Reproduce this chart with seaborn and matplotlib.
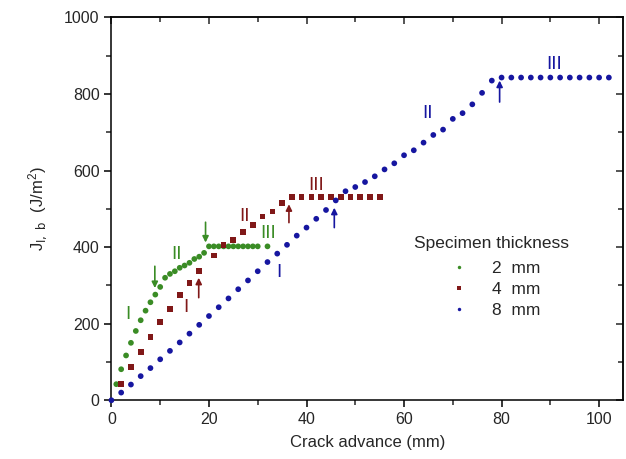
import numpy as np
import pandas as pd
import matplotlib
matplotlib.use("Agg")
import matplotlib.pyplot as plt
import seaborn as sns
from matplotlib.ticker import MultipleLocator

# 2 mm specimen
x_2mm = [1, 2, 3, 4, 5, 6, 7, 8, 9, 10, 11, 12, 13, 14, 15, 16, 17, 18, 19, 20,
         21, 22, 23, 24, 25, 26, 27, 28, 29, 30, 32]
j_2mm = [42, 81, 117, 150, 181, 209, 234, 256, 276, 296, 320, 330, 337, 346, 352,
         359, 369, 375, 385, 402,
         402, 402, 402, 402, 402, 402, 402, 402, 402, 402, 402]

# 4 mm specimen
x_4mm = [2, 4, 6, 8, 10, 12, 14, 16, 18, 21, 23, 25, 27, 29, 31, 33, 35, 37,
         39, 41, 43, 45, 47, 49, 51, 53, 55]
j_4mm = [43, 86, 126, 165, 204, 239, 274, 307, 337, 378, 406, 418, 440, 457, 480,
         493, 515, 531,
         531, 531, 531, 531, 531, 531, 531, 531, 531]

# 8 mm specimen
x_8mm = [0, 2, 4, 6, 8, 10, 12, 14, 16, 18, 20, 22, 24, 26, 28, 30, 32, 34, 36, 38,
         40, 42, 44, 46, 48, 50, 52, 54, 56, 58, 60, 62, 64, 66, 68, 70, 72, 74, 76, 78,
         80, 82, 84, 86, 88, 90, 92, 94, 96, 98, 100, 102]
j_8mm = [0, 20, 41, 63, 84, 107, 129, 151, 174, 197, 220, 243, 266, 290, 313, 337,
         361, 383, 406, 430, 451, 474, 497, 522, 546, 557, 570, 585, 603, 619, 640,
         653, 673, 693, 707, 735, 750, 773, 803, 835,
         843, 843, 843, 843, 843, 843, 843, 843, 843, 843, 843, 843]

labels = ["2  mm", "4  mm", "8  mm"]
colors = ["#3a8c25", "#801818", "#1616a0"]

# stage labels (text, x, y, series index)
stage_text = ["I", "II", "III", "I", "II", "III", "I", "II", "III"]
stage_x = [3.4, 13.4, 32.1, 15.2, 27.2, 42.0, 34.3, 64.9, 90.8]
stage_y = [223, 381, 436, 241, 481, 562, 334, 748, 877]
stage_series = [0, 0, 0, 1, 1, 1, 2, 2, 2]

# transition arrows (x, tail y, head y, series index)
arrow_x = [8.9, 19.3, 17.9, 36.4, 45.7, 79.6]
arrow_tail = [350, 465, 268, 464, 451, 779]
arrow_head = [293, 412, 320, 512, 503, 835]
arrow_series = [0, 0, 1, 1, 2, 2]

df = pd.concat([
    pd.DataFrame({"x": x_2mm, "J": j_2mm, "thickness": labels[0]}),
    pd.DataFrame({"x": x_4mm, "J": j_4mm, "thickness": labels[1]}),
    pd.DataFrame({"x": x_8mm, "J": j_8mm, "thickness": labels[2]}),
])

sns.set_style("white")
plt.rcParams["font.family"] = ["Liberation Sans", "DejaVu Sans"]
plt.rcParams["mathtext.default"] = "regular"

fig = plt.figure(figsize=(6.26, 4.59), dpi=100)
ax = fig.add_axes([0.178, 0.128, 0.818, 0.834])

sns.scatterplot(data=df, x="x", y="J", hue="thickness", style="thickness",
                palette=dict(zip(labels, colors)),
                markers={labels[0]: "o", labels[1]: "s", labels[2]: "o"},
                s=17, linewidth=0, ax=ax, clip_on=False, zorder=3)

for t, xx, yy, si in zip(stage_text, stage_x, stage_y, stage_series):
    ax.text(xx, yy, t, color=colors[si], fontsize=13.5, ha="center", va="center",
            family=["Liberation Sans Narrow", "Liberation Sans", "DejaVu Sans"])

for xx, yt, yh, si in zip(arrow_x, arrow_tail, arrow_head, arrow_series):
    ax.annotate("", xy=(xx, yh), xytext=(xx, yt),
                arrowprops=dict(arrowstyle="-|>", color=colors[si], lw=1.2,
                                mutation_scale=9, shrinkA=0, shrinkB=0))

ax.set_xlim(0, 105)
ax.set_ylim(0, 1000)
ax.xaxis.set_major_locator(MultipleLocator(20))
ax.xaxis.set_minor_locator(MultipleLocator(10))
ax.yaxis.set_major_locator(MultipleLocator(200))
ax.yaxis.set_minor_locator(MultipleLocator(100))
ax.tick_params(which="major", direction="out", length=5, width=1.1,
               labelsize=11.5, color="black", left=True, bottom=True)
ax.tick_params(which="minor", direction="out", length=3.5, width=1.1,
               left=True, bottom=True)

for sp in ax.spines.values():
    sp.set_color("black")
    sp.set_linewidth(1.1)

top = ax.secondary_xaxis("top")
top.xaxis.set_major_locator(MultipleLocator(20))
top.xaxis.set_minor_locator(MultipleLocator(10))
top.tick_params(which="major", direction="in", length=5, width=1.1, labeltop=False)
top.tick_params(which="minor", direction="in", length=3.5, width=1.1)
top.spines["top"].set_linewidth(1.1)
right = ax.secondary_yaxis("right")
right.yaxis.set_major_locator(MultipleLocator(200))
right.yaxis.set_minor_locator(MultipleLocator(100))
right.tick_params(which="major", direction="in", length=5, width=1.1, labelright=False)
right.tick_params(which="minor", direction="in", length=3.5, width=1.1)
right.spines["right"].set_linewidth(1.1)

ax.set_xlabel("Crack advance (mm)", fontsize=12, labelpad=6)
ax.set_ylabel(r"J$_{\mathrm{I,\ b}}$  (J/m$^{2}$)", fontsize=12, labelpad=10)

leg = ax.legend(title="Specimen thickness", loc="upper left",
                bbox_to_anchor=(0.56, 0.47), frameon=False, fontsize=12.5,
                title_fontsize=12.5, markerscale=0.6, handletextpad=0.9,
                labelspacing=0.35)
leg._legend_box.sep = 7

fig.savefig("out.png", dpi=100)
